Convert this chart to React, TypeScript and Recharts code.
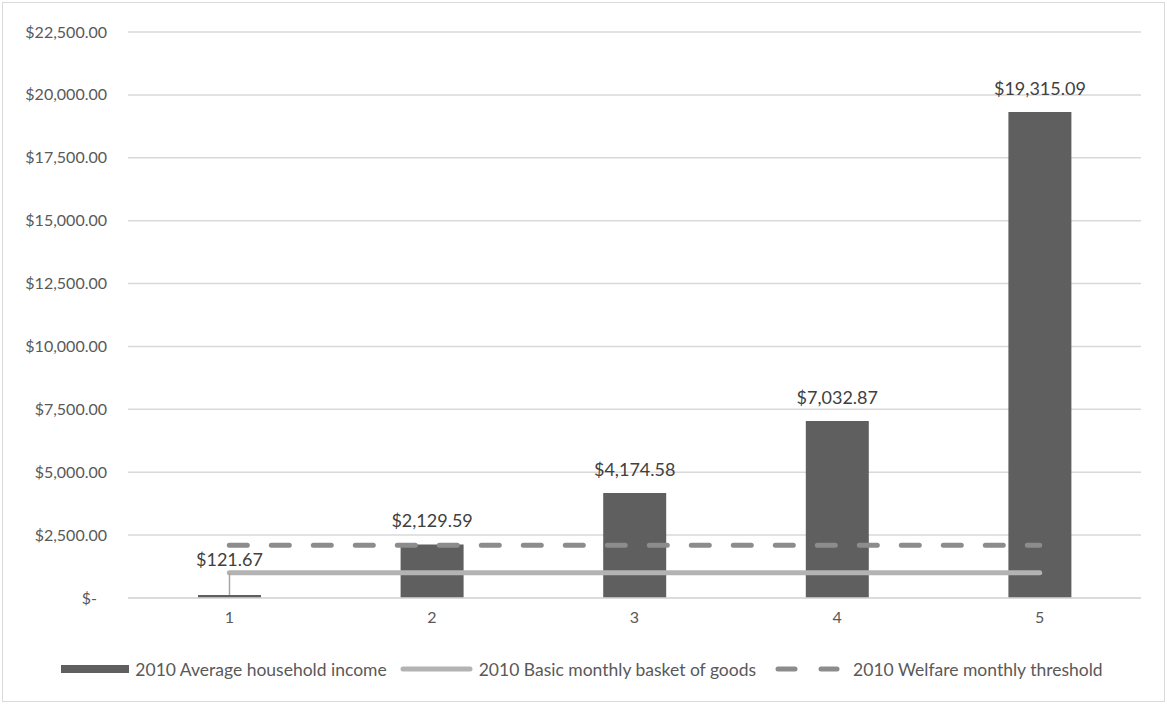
import { ComposedChart, Bar, Line, XAxis, YAxis, CartesianGrid, Legend } from "recharts";

const QUINTILES = ["1", "2", "3", "4", "5"];
const AVG_INCOME = [121.67, 2129.59, 4174.58, 7032.87, 19315.09];
const BASKET = [1005, 1005, 1005, 1005, 1005];
const WELFARE = [2100, 2100, 2100, 2100, 2100];
const Y_TICKS = [0, 2500, 5000, 7500, 10000, 12500, 15000, 17500, 20000, 22500];

const SERIES_NAMES = [
  "2010 Average household income",
  "2010 Basic monthly basket of goods",
  "2010 Welfare monthly threshold",
];

const data = QUINTILES.map((q, i) => ({
  q,
  income: AVG_INCOME[i],
  basket: BASKET[i],
  welfare: WELFARE[i],
}));

const FONT = "Lato, 'Open Sans', sans-serif";
const BAR_COLOR = "#5f5f5f";
const BASKET_COLOR = "#b3b3b3";
const WELFARE_COLOR = "#8c8c8c";

const money = (v: number) =>
  "$" + v.toLocaleString("en-US", { minimumFractionDigits: 2, maximumFractionDigits: 2 });

function YTick({ x, y, payload }: any) {
  const zero = payload.value === 0;
  return (
    <text
      x={zero ? x - 10 : x}
      y={y}
      dy="0.35em"
      textAnchor="end"
      fill="#595959"
      fontSize={16}
      fontFamily={FONT}
    >
      {zero ? "$-" : money(payload.value)}
    </text>
  );
}

function BarLabel(props: any) {
  const { x, y, width, height, value } = props;
  const cx = x + width / 2;
  const lifted = height < 20;
  const ty = y - 17 - (lifted ? 12 : 0);
  return (
    <g>
      {lifted && <line x1={cx} x2={cx} y1={ty + 7} y2={y} stroke="#a6a6a6" strokeWidth={1.5} />}
      <text x={cx} y={ty} textAnchor="middle" fill="#404040" fontSize={18} fontFamily={FONT}>
        {money(value)}
      </text>
    </g>
  );
}

function LegendContent() {
  const text = { fontSize: 17.5, color: "#595959", fontFamily: FONT, marginLeft: 6, marginRight: 13, whiteSpace: "nowrap" as const };
  return (
    <div style={{ display: "flex", justifyContent: "center", alignItems: "center", height: 40, paddingLeft: 10 }}>
      <svg width={68} height={10}>
        <rect x={0} y={1} width={68} height={8} fill={BAR_COLOR} />
      </svg>
      <span style={text}>{SERIES_NAMES[0]}</span>
      <svg width={73} height={10}>
        <line x1={3} x2={70} y1={5} y2={5} stroke={BASKET_COLOR} strokeWidth={5} strokeLinecap="round" />
      </svg>
      <span style={{ ...text, marginRight: 19 }}>{SERIES_NAMES[1]}</span>
      <svg width={65} height={10}>
        <line x1={3} x2={20} y1={5} y2={5} stroke={WELFARE_COLOR} strokeWidth={5} strokeLinecap="round" />
        <line x1={46} x2={62} y1={5} y2={5} stroke={WELFARE_COLOR} strokeWidth={5} strokeLinecap="round" />
      </svg>
      <span style={{ ...text, marginLeft: 13 }}>{SERIES_NAMES[2]}</span>
    </div>
  );
}

export default function App() {
  return (
    <div style={{ position: "absolute", left: 0, top: 0, width: 1167, height: 704, background: "#fff" }}>
      <div
        style={{
          position: "absolute",
          left: 2,
          top: 2,
          width: 1161,
          height: 698,
          border: "1px solid #d9d9d9",
        }}
      />
      <ComposedChart
        width={1167}
        height={704}
        data={data}
        margin={{ top: 32, right: 26, bottom: 15, left: 0 }}
        style={{ position: "absolute", left: 0, top: 0 }}
      >
        <CartesianGrid vertical={false} stroke="#d9d9d9" strokeWidth={1.5} />
        <XAxis
          dataKey="q"
          tickLine={false}
          axisLine={{ stroke: "#d9d9d9", strokeWidth: 1.5 }}
          tickSize={0}
          tickMargin={14}
          height={51}
          tick={{ fill: "#595959", fontSize: 16, fontFamily: FONT }}
        />
        <YAxis
          width={128}
          domain={[0, 22500]}
          ticks={Y_TICKS}
          axisLine={false}
          tickLine={false}
          tickSize={0}
          tickMargin={21}
          tick={<YTick />}
        />
        <Legend verticalAlign="bottom" height={40} wrapperStyle={{ left: 0, width: 1167 }} content={<LegendContent />} />
        <Bar dataKey="income" name={SERIES_NAMES[0]} fill={BAR_COLOR} barSize={63} isAnimationActive={false} label={<BarLabel />} />
        <Line
          dataKey="basket"
          name={SERIES_NAMES[1]}
          stroke={BASKET_COLOR}
          strokeWidth={5}
          strokeLinecap="round"
          dot={false}
          activeDot={false}
          isAnimationActive={false}
        />
        <Line
          dataKey="welfare"
          name={SERIES_NAMES[2]}
          stroke={WELFARE_COLOR}
          strokeWidth={5}
          strokeLinecap="round"
          strokeDasharray="18 24"
          dot={false}
          activeDot={false}
          isAnimationActive={false}
        />
      </ComposedChart>
    </div>
  );
}
